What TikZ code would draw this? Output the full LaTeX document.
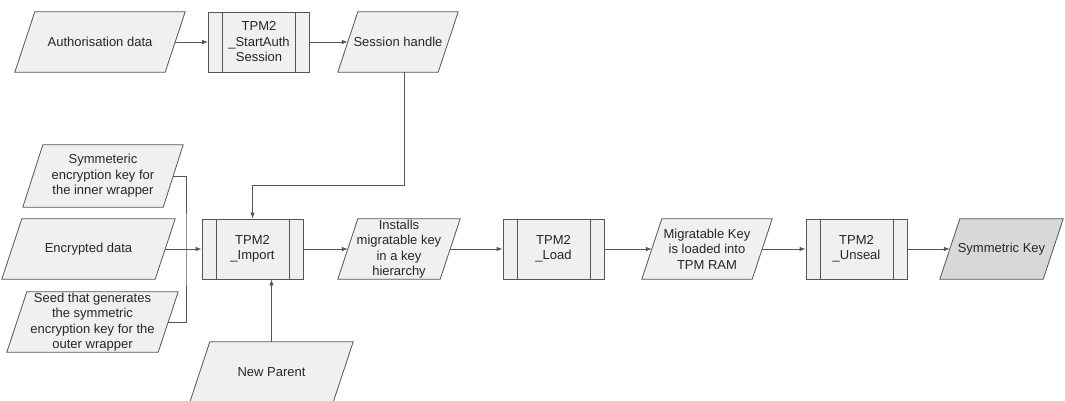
\documentclass[tikz,border=0pt]{standalone}
\usepackage{fontspec}
\setmainfont{Liberation Sans}
\usetikzlibrary{arrows.meta,backgrounds}
\definecolor{linegray}{RGB}{85, 85, 85}
\definecolor{boxgray}{RGB}{240, 240, 240}
\definecolor{keygray}{RGB}{216, 216, 216}

\begin{document}
\begin{tikzpicture}[x=1pt, y=-1pt,
        txt/.style={font=\fontsize{13}{15.5}\selectfont, text=black!85, align=center, inner sep=0pt},
        data/.style={txt, rectangle, minimum height=60pt},
        datashape/.style={draw=linegray, line width=0.8pt},
        process/.style={txt, rectangle, draw=linegray, line width=0.8pt, fill=boxgray, minimum width=101pt, minimum height=60pt,
            path picture={
                \draw[linegray, line width=0.8pt] ([xshift=14pt]path picture bounding box.north west) -- ([xshift=14pt]path picture bounding box.south west);
                \draw[linegray, line width=0.8pt] ([xshift=-14pt]path picture bounding box.north east) -- ([xshift=-14pt]path picture bounding box.south east);
            }},
        flow/.style={draw=linegray, line width=0.8pt, -{Latex[length=6pt,width=4.5pt]}},
        link/.style={draw=linegray, line width=0.8pt}]
    \useasboundingbox (0,0) rectangle (1065,401);

    \pgfmathsetmacro{\topRow}{42}
    \pgfmathsetmacro{\midRow}{249}

    % top row
    \node[data, minimum width=150pt] (authdata) at (100, \topRow) {Authorisation data};
    \node[process] (startauth) at (259, \topRow) {TPM2\\\_StartAuth\\Session};
    \node[data, minimum width=100pt] (session) at (398, \topRow) {Session handle};

    % inputs of the import
    \node[data, minimum width=140pt, minimum height=62pt] (innerkey) at (103, 176) {Symmeteric\\encryption key for\\the inner wrapper};
    \node[data, minimum width=153pt] (encdata) at (88.5, \midRow) {Encrypted data};
    \node[data, minimum width=151pt] (seed) at (92.5, 322) {Seed that generates\\the symmetric\\encryption key for the\\outer wrapper};
    \node[data, minimum width=143pt] (newparent) at (271.5, 372) {New Parent};

    % main row
    \node[process] (import) at (252.5, \midRow) {TPM2\\\_Import};
    \node[data, minimum width=102pt] (installs) at (399, \midRow) {Installs\\migratable key\\in a key\\hierarchy};
    \node[process] (load) at (553.5, \midRow) {TPM2\\\_Load};
    \node[data, minimum width=110pt] (loaded) at (707, \midRow) {Migratable Key\\is loaded into\\TPM RAM};
    \node[process] (unseal) at (856.5, \midRow) {TPM2\\\_Unseal};
    \node[data, minimum width=103pt] (symkey) at (1001.5, \midRow) {Symmetric Key};

    % slanted data boxes behind the texts
    \begin{scope}[on background layer]
        \foreach \n/\c in {authdata/boxgray, session/boxgray, innerkey/boxgray, encdata/boxgray,
                seed/boxgray, newparent/boxgray, installs/boxgray, loaded/boxgray, symkey/keygray}
            \draw[datashape, fill=\c] ([xshift=-10pt]\n.south west) -- ([xshift=10pt]\n.north west)
                -- ([xshift=10pt]\n.north east) -- ([xshift=-10pt]\n.south east) -- cycle;
    \end{scope}

    \coordinate (bend) at (404, 185);
    \coordinate (merge) at (186, \midRow);

    % connectors
    \draw[flow] (authdata) -- (startauth);
    \draw[flow] (startauth) -- (session);
    \draw[flow] (session.south -| bend) -- (bend) -| (import.north);
    \draw[link] (innerkey.east) -| (merge) |- (seed.east);
    \draw[flow] (encdata) -- (import);
    \draw[flow] (newparent.north) -- (newparent.north |- import.south);

    \draw[flow] (import) -- (installs);
    \draw[flow] (installs) -- (load);
    \draw[flow] (load) -- (loaded);
    \draw[flow] (loaded) -- (unseal);
    \draw[flow] (unseal) -- (symkey);

\end{tikzpicture}
\end{document}
